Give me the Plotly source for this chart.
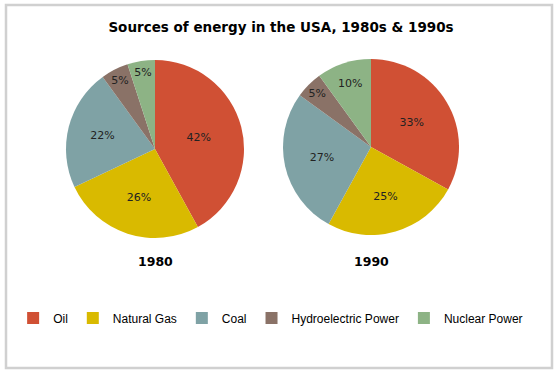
import plotly.graph_objects as go

categories = ["Oil", "Natural Gas", "Coal", "Hydroelectric Power", "Nuclear Power"]
values_1980 = [42, 26, 22, 5, 5]
values_1990 = [33, 25, 27, 5, 10]
years = ["1980", "1990"]
colors = ["#D05034", "#D9BA00", "#7FA2A5", "#8A7267", "#8DB385"]

W, H = 558, 374

def dom(cx, cy, r):
    return dict(x=[(cx - r) / W, (cx + r) / W], y=[(H - cy - r) / H, (H - cy + r) / H])

domains = [dom(155, 149, 89), dom(371, 147, 88)]

fig = go.Figure()
for i, vals in enumerate([values_1980, values_1990]):
    fig.add_trace(go.Pie(
        labels=categories, values=vals, sort=False, direction="clockwise", rotation=0,
        marker=dict(colors=colors, line=dict(width=0)),
        texttemplate="%{value}%", textposition="inside", insidetextorientation="horizontal",
        textfont=dict(family="DejaVu Sans", size=11, color="#222222"),
        hoverinfo="label+percent", domain=domains[i], showlegend=(i == 0),
    ))

annotations = []
for i, y in enumerate(years):
    cx = [155, 371][i]
    annotations.append(dict(text=y, x=cx / W, y=(H - 261) / H, xref="paper", yref="paper",
                            showarrow=False, xanchor="center", yanchor="middle",
                            font=dict(family="DejaVu Sans", size=12.5, color="#000000", weight="bold")))

fig.update_layout(
    width=W, height=H, margin=dict(l=0, r=0, t=0, b=0),
    paper_bgcolor="white", plot_bgcolor="white",
    title=dict(text="<b>Sources of energy in the USA, 1980s &amp; 1990s</b>", x=281 / W, xanchor="center",
               y=(H - 27) / H, yanchor="middle",
               font=dict(family="DejaVu Sans", size=13.5, color="#000000")),
    legend=dict(orientation="h", x=0.485, xanchor="center", y=(H - 318) / H, yanchor="middle",
                font=dict(family="Liberation Sans, Arial", size=12, color="#000000"),
                bgcolor="rgba(0,0,0,0)", itemwidth=30, traceorder="normal"),
    uniformtext=dict(minsize=11, mode="show"),
    annotations=annotations,
    shapes=[dict(type="rect", xref="paper", yref="paper", x0=6 / W, x1=552 / W,
                 y0=(H - 368) / H, y1=(H - 5) / H, line=dict(color="#d0d0d0", width=2.5))],
)

fig.write_html("out.html", post_script="document.body.style.margin='0';",
               config={"displayModeBar": False})
